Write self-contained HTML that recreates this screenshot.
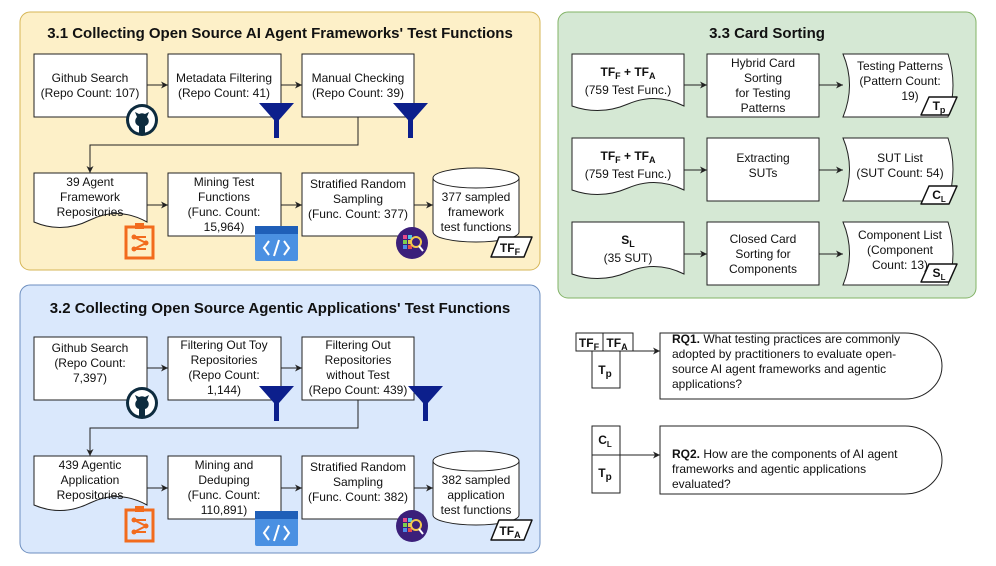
<!DOCTYPE html>
<html><head><meta charset="utf-8"><style>
html,body{margin:0;padding:0;background:#fff;}
svg{display:block;font-family:"Liberation Sans",Arial,sans-serif;}
text{font-size:12px;fill:#111;}
.t{font-size:15px;font-weight:bold;}
.b{fill:#fff;stroke:#222;stroke-width:1;}
.l{stroke:#222;stroke-width:1;fill:none;}
</style></head><body>
<svg width="996" height="566" viewBox="0 0 996 566" xmlns="http://www.w3.org/2000/svg">
<defs>
<marker id="a" markerWidth="8" markerHeight="8" refX="7" refY="4" orient="auto" markerUnits="userSpaceOnUse"><path d="M0,0.5 L7,4 L0,7.5 L2,4 Z" fill="#222"/></marker>
<g id="gh"><circle r="16" fill="#0d2b3e"/><circle r="13" fill="#fff"/><path d="M-7,-8 L-5,-3 C-8,0 -7,5 -3,6 L-3,13 L3,13 L3,6 C7,5 8,0 5,-3 L7,-8 L3,-6 C1,-7 -1,-7 -3,-6 Z" fill="#0d2b3e"/></g>
<g id="fn"><path d="M0,0 H35 L20,17 V35 H15 V17 Z" fill="#0c1f8c"/></g>
<g id="or"><rect x="0" y="4" width="27" height="31" fill="none" stroke="#f26b1d" stroke-width="3"/><rect x="9" y="0" width="9" height="6" fill="#f26b1d"/><circle cx="8" cy="14" r="2.5" fill="#f26b1d"/><circle cx="8" cy="26" r="2.5" fill="#f26b1d"/><circle cx="20" cy="20" r="2.5" fill="#f26b1d"/><path d="M8,14 L20,20 L8,26 M8,14 H20 M8,26 H20" stroke="#f26b1d" stroke-width="2" fill="none"/></g>
<g id="cd"><rect width="43" height="35" rx="2" fill="#4a90e2"/><rect width="43" height="8" fill="#1f5fb8"/><path d="M14,15 L9,22 L14,29 M29,15 L34,22 L29,29 M24,14 L19,30" stroke="#fff" stroke-width="2" fill="none"/></g>
<g id="pu"><circle r="16" fill="#3b1f7a"/><rect x="-9" y="-8" width="4" height="4" fill="#e84c8a"/><rect x="-4" y="-8" width="4" height="4" fill="#4cc3e8"/><rect x="-9" y="-3" width="4" height="4" fill="#7bd14c"/><rect x="-4" y="-3" width="4" height="4" fill="#e8c34c"/><rect x="-9" y="2" width="4" height="4" fill="#4c8ae8"/><rect x="-4" y="2" width="4" height="4" fill="#e84c4c"/><circle cx="4" cy="-1" r="5" fill="none" stroke="#f2c94c" stroke-width="2"/><path d="M7,3 L11,8" stroke="#fff" stroke-width="2"/></g>
</defs>

<!-- Section 3.1 -->
<rect x="20" y="12" width="520" height="258" rx="10" fill="#fdf0c8" stroke="#d6b656"/>
<text x="280" y="38" text-anchor="middle" class="t">3.1 Collecting Open Source AI Agent Frameworks' Test Functions</text>
<rect x="34" y="54" width="113" height="63" class="b"/>
<text x="90" y="82" text-anchor="middle">Github Search</text><text x="90" y="97" text-anchor="middle">(Repo Count: 107)</text>
<rect x="168" y="54" width="113" height="63" class="b"/>
<text x="224" y="82" text-anchor="middle">Metadata Filtering</text><text x="224" y="97" text-anchor="middle">(Repo Count: 41)</text>
<rect x="302" y="54" width="112" height="63" class="b"/>
<text x="358" y="82" text-anchor="middle">Manual Checking</text><text x="358" y="97" text-anchor="middle">(Repo Count: 39)</text>
<path d="M147,85 H168" class="l" marker-end="url(#a)"/>
<path d="M281,85 H302" class="l" marker-end="url(#a)"/>
<path d="M358,117 V145 H90 V173" class="l" marker-end="url(#a)"/>
<use href="#gh" x="142" y="120"/>
<use href="#fn" x="259" y="103"/>
<use href="#fn" x="393" y="103"/>
<path d="M34,173 H147 V222 Q118,206 90,220 Q62,234 34,222 Z" class="b"/>
<text x="90" y="186" text-anchor="middle">39 Agent</text><text x="90" y="201" text-anchor="middle">Framework</text><text x="90" y="216" text-anchor="middle">Repositories</text>
<rect x="168" y="173" width="113" height="63" class="b"/>
<text x="224" y="186" text-anchor="middle">Mining Test</text><text x="224" y="201" text-anchor="middle">Functions</text><text x="224" y="216" text-anchor="middle">(Func. Count:</text><text x="224" y="231" text-anchor="middle">15,964)</text>
<rect x="302" y="173" width="112" height="63" class="b"/>
<text x="358" y="188" text-anchor="middle">Stratified Random</text><text x="358" y="203" text-anchor="middle">Sampling</text><text x="358" y="218" text-anchor="middle">(Func. Count: 377)</text>
<path d="M433,178 V232 A43,10 0 0 0 519,232 V178 A43,10 0 0 0 433,178 A43,10 0 0 0 519,178" class="b"/>
<text x="476" y="201" text-anchor="middle">377 sampled</text><text x="476" y="216" text-anchor="middle">framework</text><text x="476" y="231" text-anchor="middle">test functions</text>
<path d="M147,205 H168" class="l" marker-end="url(#a)"/>
<path d="M281,205 H302" class="l" marker-end="url(#a)"/>
<path d="M414,205 H433" class="l" marker-end="url(#a)"/>
<use href="#or" x="126" y="223"/>
<use href="#cd" x="255" y="226"/>
<use href="#pu" x="412" y="243"/>
<path d="M499,237 H532 L524,257 H491 Z" fill="#fff" stroke="#111" stroke-width="1.5" stroke-linejoin="round"/>
<text x="510" y="252" text-anchor="middle" font-weight="bold" font-size="11">TF<tspan font-size="9" dy="3">F</tspan></text>

<!-- Section 3.2 -->
<rect x="20" y="285" width="520" height="268" rx="10" fill="#dae8fc" stroke="#6c8ebf"/>
<text x="280" y="313" text-anchor="middle" class="t">3.2 Collecting Open Source Agentic Applications' Test Functions</text>
<rect x="34" y="337" width="113" height="63" class="b"/>
<text x="90" y="352" text-anchor="middle">Github Search</text><text x="90" y="367" text-anchor="middle">(Repo Count:</text><text x="90" y="382" text-anchor="middle">7,397)</text>
<rect x="168" y="337" width="113" height="63" class="b"/>
<text x="224" y="349" text-anchor="middle">Filtering Out Toy</text><text x="224" y="364" text-anchor="middle">Repositories</text><text x="224" y="379" text-anchor="middle">(Repo Count:</text><text x="224" y="394" text-anchor="middle">1,144)</text>
<rect x="302" y="337" width="112" height="63" class="b"/>
<text x="358" y="349" text-anchor="middle">Filtering Out</text><text x="358" y="364" text-anchor="middle">Repositories</text><text x="358" y="379" text-anchor="middle">without Test</text><text x="358" y="394" text-anchor="middle">(Repo Count: 439)</text>
<path d="M147,368 H168" class="l" marker-end="url(#a)"/>
<path d="M281,368 H302" class="l" marker-end="url(#a)"/>
<path d="M358,400 V428 H90 V456" class="l" marker-end="url(#a)"/>
<use href="#gh" x="142" y="403"/>
<use href="#fn" x="259" y="386"/>
<use href="#fn" x="408" y="386"/>
<path d="M34,456 H147 V505 Q118,489 90,503 Q62,517 34,505 Z" class="b"/>
<text x="90" y="469" text-anchor="middle">439 Agentic</text><text x="90" y="484" text-anchor="middle">Application</text><text x="90" y="499" text-anchor="middle">Repositories</text>
<rect x="168" y="456" width="113" height="63" class="b"/>
<text x="224" y="469" text-anchor="middle">Mining  and</text><text x="224" y="484" text-anchor="middle">Deduping</text><text x="224" y="499" text-anchor="middle">(Func. Count:</text><text x="224" y="514" text-anchor="middle">110,891)</text>
<rect x="302" y="456" width="112" height="63" class="b"/>
<text x="358" y="471" text-anchor="middle">Stratified Random</text><text x="358" y="486" text-anchor="middle">Sampling</text><text x="358" y="501" text-anchor="middle">(Func. Count: 382)</text>
<path d="M433,461 V515 A43,10 0 0 0 519,515 V461 A43,10 0 0 0 433,461 A43,10 0 0 0 519,461" class="b"/>
<text x="476" y="484" text-anchor="middle">382 sampled</text><text x="476" y="499" text-anchor="middle">application</text><text x="476" y="514" text-anchor="middle">test functions</text>
<path d="M147,488 H168" class="l" marker-end="url(#a)"/>
<path d="M281,488 H302" class="l" marker-end="url(#a)"/>
<path d="M414,488 H433" class="l" marker-end="url(#a)"/>
<use href="#or" x="126" y="506"/>
<use href="#cd" x="255" y="511"/>
<use href="#pu" x="412" y="526"/>
<path d="M499,520 H532 L524,540 H491 Z" fill="#fff" stroke="#111" stroke-width="1.5" stroke-linejoin="round"/>
<text x="510" y="535" text-anchor="middle" font-weight="bold" font-size="11">TF<tspan font-size="9" dy="3">A</tspan></text>

<!-- Section 3.3 -->
<rect x="558" y="12" width="418" height="286" rx="10" fill="#d5e8d4" stroke="#82b366"/>
<text x="767" y="38" text-anchor="middle" class="t">3.3 Card Sorting</text>

<!-- row 1 -->
<path d="M572,54 H684 V106 Q656,92 628,104 Q600,116 572,106 Z" class="b"/>
<text x="628" y="76" text-anchor="middle" font-weight="bold">TF<tspan font-size="9" dy="3">F</tspan><tspan dy="-3"> + TF</tspan><tspan font-size="9" dy="3">A</tspan></text>
<text x="628" y="94" text-anchor="middle">(759 Test Func.)</text>
<rect x="707" y="54" width="112" height="63" class="b"/>
<text x="763" y="67" text-anchor="middle">Hybrid Card</text><text x="763" y="82" text-anchor="middle">Sorting</text><text x="763" y="97" text-anchor="middle">for Testing</text><text x="763" y="112" text-anchor="middle">Patterns</text>
<path d="M843,54 H948 Q958,85 948,117 H843 Q856,85 843,54 Z" class="b"/>
<text x="900" y="70" text-anchor="middle">Testing Patterns</text><text x="900" y="85" text-anchor="middle">(Pattern Count:</text><text x="910" y="100" text-anchor="middle">19)</text>
<path d="M684,85 H707" class="l" marker-end="url(#a)"/>
<path d="M819,85 H843" class="l" marker-end="url(#a)"/>
<path d="M929,97 H957 L949,115 H921 Z" fill="#fff" stroke="#111" stroke-width="1.5" stroke-linejoin="round"/>
<text x="939" y="110" text-anchor="middle" font-weight="bold" font-size="11">T<tspan font-size="9" dy="3">p</tspan></text>

<!-- row 2 -->
<path d="M572,138 H684 V190 Q656,176 628,188 Q600,200 572,190 Z" class="b"/>
<text x="628" y="160" text-anchor="middle" font-weight="bold">TF<tspan font-size="9" dy="3">F</tspan><tspan dy="-3"> + TF</tspan><tspan font-size="9" dy="3">A</tspan></text>
<text x="628" y="178" text-anchor="middle">(759 Test Func.)</text>
<rect x="707" y="138" width="112" height="63" class="b"/>
<text x="763" y="162" text-anchor="middle">Extracting</text><text x="763" y="177" text-anchor="middle">SUTs</text>
<path d="M843,138 H948 Q958,169 948,201 H843 Q856,169 843,138 Z" class="b"/>
<text x="900" y="162" text-anchor="middle">SUT List</text><text x="900" y="177" text-anchor="middle">(SUT Count: 54)</text>
<path d="M684,170 H707" class="l" marker-end="url(#a)"/>
<path d="M819,170 H843" class="l" marker-end="url(#a)"/>
<path d="M929,186 H957 L949,204 H921 Z" fill="#fff" stroke="#111" stroke-width="1.5" stroke-linejoin="round"/>
<text x="939" y="199" text-anchor="middle" font-weight="bold" font-size="11">C<tspan font-size="8" dy="3">L</tspan></text>

<!-- row 3 -->
<path d="M572,222 H684 V274 Q656,260 628,272 Q600,284 572,274 Z" class="b"/>
<text x="628" y="244" text-anchor="middle" font-weight="bold">S<tspan font-size="9" dy="3">L</tspan></text>
<text x="628" y="262" text-anchor="middle">(35 SUT)</text>
<rect x="707" y="222" width="112" height="63" class="b"/>
<text x="763" y="243" text-anchor="middle">Closed Card</text><text x="763" y="258" text-anchor="middle">Sorting for</text><text x="763" y="273" text-anchor="middle">Components</text>
<path d="M843,222 H948 Q958,253 948,285 H843 Q856,253 843,222 Z" class="b"/>
<text x="900" y="239" text-anchor="middle">Component List</text><text x="900" y="254" text-anchor="middle">(Component</text><text x="900" y="269" text-anchor="middle">Count: 13)</text>
<path d="M684,254 H707" class="l" marker-end="url(#a)"/>
<path d="M819,254 H843" class="l" marker-end="url(#a)"/>
<path d="M929,264 H957 L949,282 H921 Z" fill="#fff" stroke="#111" stroke-width="1.5" stroke-linejoin="round"/>
<text x="939" y="277" text-anchor="middle" font-weight="bold" font-size="11">S<tspan font-size="8" dy="3">L</tspan></text>

<!-- RQ1 -->
<rect x="576" y="333" width="27" height="18" class="b"/>
<rect x="603" y="333" width="30" height="18" class="b"/>
<rect x="592" y="351" width="28" height="37" class="b"/>
<text x="589" y="347" text-anchor="middle" font-weight="bold" font-size="11">TF<tspan font-size="9" dy="3">F</tspan></text>
<text x="617" y="347" text-anchor="middle" font-weight="bold" font-size="11">TF<tspan font-size="9" dy="3">A</tspan></text>
<text x="605" y="374" text-anchor="middle" font-weight="bold" font-size="12">T<tspan font-size="10" dy="3">p</tspan></text>
<path d="M633,351 H660" class="l" marker-end="url(#a)"/>
<path d="M660,333 H905 A37,33 0 0 1 905,399 H660 Z" class="b"/>
<text x="672" y="343"><tspan font-weight="bold">RQ1.</tspan> What testing practices are commonly</text>
<text x="672" y="358">adopted by practitioners to evaluate open-</text>
<text x="672" y="373">source AI agent frameworks and agentic</text>
<text x="672" y="388">applications?</text>

<!-- RQ2 -->
<rect x="592" y="426" width="28" height="29" class="b"/>
<rect x="592" y="455" width="28" height="38" class="b"/>
<text x="605" y="444" text-anchor="middle" font-weight="bold" font-size="11">C<tspan font-size="8" dy="3">L</tspan></text>
<text x="605" y="477" text-anchor="middle" font-weight="bold" font-size="12">T<tspan font-size="10" dy="3">p</tspan></text>
<path d="M620,455 H660" class="l" marker-end="url(#a)"/>
<path d="M660,426 H905 A37,34 0 0 1 905,494 H660 Z" class="b"/>
<text x="672" y="458"><tspan font-weight="bold">RQ2.</tspan> How are the components of AI agent</text>
<text x="672" y="473">frameworks and agentic applications</text>
<text x="672" y="488">evaluated?</text>
</svg>
</body></html>
